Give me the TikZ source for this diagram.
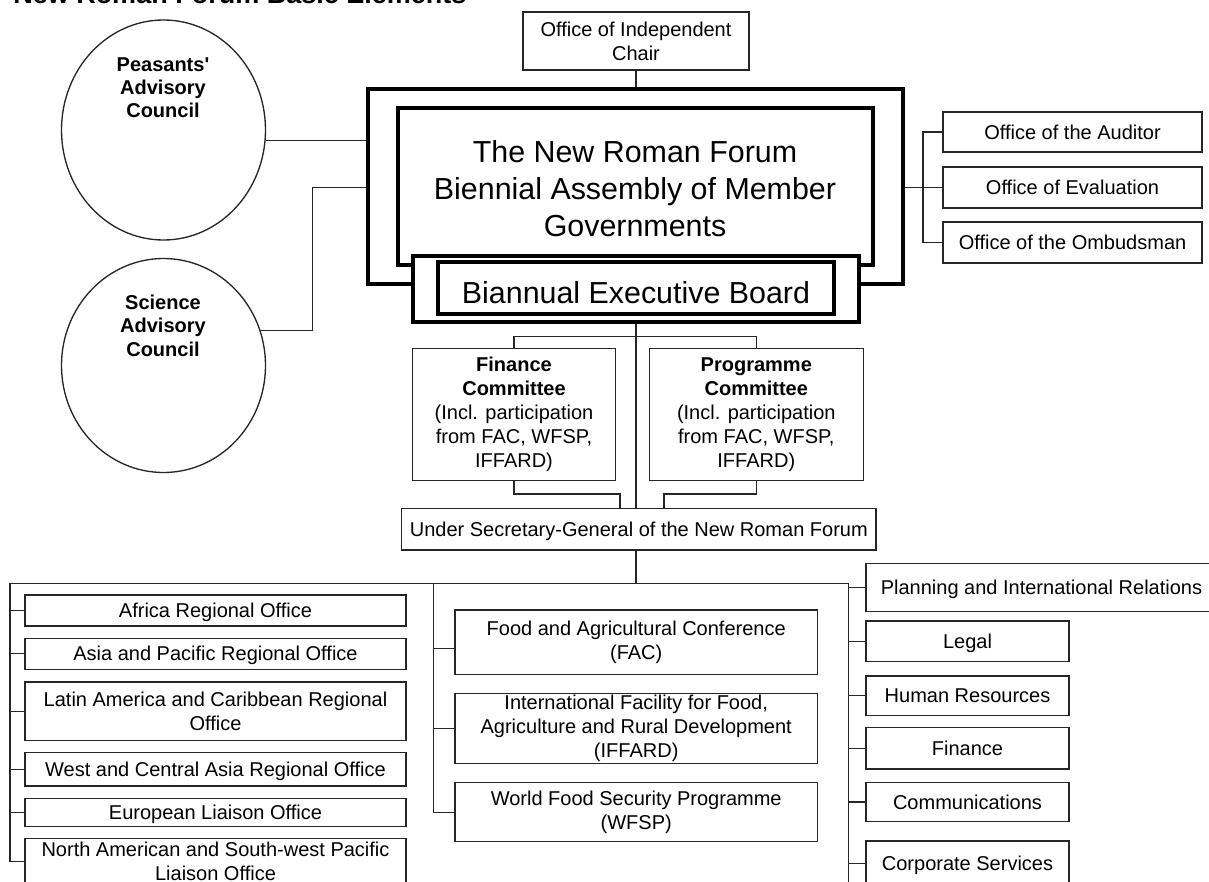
\documentclass[tikz,border=0pt]{standalone}
\usepackage{fontspec}
\setmainfont{Liberation Sans}
\usetikzlibrary{shapes.geometric}
\newcommand\myfn{\fontsize{15}{18}\selectfont}
\newcommand\mybig{\fontsize{22.8}{27.75}\selectfont}
\newcommand\mycirc{\fontsize{15}{17.6}\selectfont\bfseries}
\newcommand\mytitle{\fontsize{20.25}{24}\selectfont\bfseries}
\begin{document}
\begin{tikzpicture}[x=0.75pt,y=-0.75pt]
\tikzset{
  conn/.style={line width=1pt, draw=black!85},
  bx/.style={draw=black!85, line width=1pt, inner sep=0pt, align=center, font=\myfn},
  one/.style={text height=10.74pt, text depth=0pt},
  sz/.style 2 args={minimum width=#1*0.75pt, minimum height=#2*0.75pt},
  thk/.style={draw=black, line width=2.4pt, inner sep=0pt},
  circ/.style={ellipse, draw=black!85, line width=1pt, inner sep=0pt},
}
\useasboundingbox (0,0) rectangle (1209,881);

% title
\node[anchor=base west, font=\mytitle, inner sep=0pt] (title) at (13,4) {New Roman Forum Basic Elements};

% top part
\node[bx, sz={226}{58}] (chair) at (636,41) {Office of Independent\\Chair};
\node[thk, sz={535}{195}] (frame) at (635.5,186.5) {};
\node[thk, sz={475}{157}] (asm) at (635.5,186.5) {};
\node[font=\mybig, align=center, inner sep=0pt] (asmtxt) at (635,189) {The New Roman Forum\\Biennial Assembly of Member\\Governments};
\node[thk, fill=white, sz={446}{66}] (bdout) at (636,289) {};
\node[thk, sz={396}{52}] (bdin) at (636,288) {};
\node[font=\mybig, inner sep=0pt] (bdtxt) at (636,292.4) {Biannual Executive Board};

% offices on the right
\node[bx, one, sz={259}{40}] (aud) at (1072.5,132) {Office of the Auditor};
\node[bx, one, sz={259}{41}] (eva) at (1072.5,187.5) {Office of Evaluation};
\node[bx, one, sz={259}{41}] (omb) at (1072.5,242.5) {Office of the Ombudsman};

% councils
\node[circ, sz={204}{220}] (pea) at (163.5,130) {};
\node[font=\mycirc, align=center, inner sep=0pt] (peatxt) at (163,87.7) {Peasants\textquotesingle\\Advisory\\Council};
\node[circ, sz={204}{214}] (sci) at (163.5,365.5) {};
\node[font=\mycirc, align=center, inner sep=0pt] (scitxt) at (163,325.7) {Science\\Advisory\\Council};

% committees
\node[bx, sz={202.6}{132.4}] (fin) at (514,414.5) {\textbf{Finance}\\\textbf{Committee}\\(Incl. participation\\from FAC, WFSP,\\IFFARD)};
\node[bx, sz={214}{132.4}] (prog) at (756.3,414.5) {\textbf{Programme}\\\textbf{Committee}\\(Incl. participation\\from FAC, WFSP,\\IFFARD)};
\node[bx, one, sz={474.3}{41.7}] (usg) at (638.8,529.2) {Under Secretary-General of the New Roman Forum};

% left column
\node[bx, one, sz={381}{31}] (afr) at (215.5,610.5) {Africa Regional Office};
\node[bx, one, sz={381}{31}] (asia) at (215.5,653.8) {Asia and Pacific Regional Office};
\node[bx, sz={381}{58.7}] (lat) at (215.5,711.3) {Latin America and Caribbean Regional\\Office};
\node[bx, one, sz={381}{33.7}] (wca) at (215.5,769.2) {West and Central Asia Regional Office};
\node[bx, one, sz={381}{28.4}] (eur) at (215.5,812.5) {European Liaison Office};
\node[bx, sz={381}{45.7}] (nam) at (215.5,861.2) {North American and South-west Pacific\\Liaison Office};

% middle column
\node[bx, sz={362.3}{64.3}] (fac) at (636.2,642.2) {Food and Agricultural Conference\\(FAC)};
\node[bx, sz={362.3}{70}] (iff) at (636.2,728.3) {International Facility for Food,\\Agriculture and Rural Development\\(IFFARD)};
\node[bx, sz={362.3}{59}] (wfsp) at (636.2,812.2) {World Food Security Programme\\(WFSP)};

% right column
\node[bx, one, sz={351}{48.4}] (pir) at (1041.5,587.5) {Planning and International Relations};
\node[bx, one, sz={203}{40.7}] (leg) at (967.5,641.3) {Legal};
\node[bx, one, sz={203}{39.7}] (hr) at (967.5,695.8) {Human Resources};
\node[bx, one, sz={203}{41.3}] (finc) at (967.5,748.3) {Finance};
\node[bx, one, sz={203}{39.4}] (com) at (967.5,802) {Communications};
\node[bx, one, sz={203}{44.6}] (cor) at (967.5,863.3) {Corporate Services};

% connectors: top
\draw[conn] (chair.south) -- (chair.south |- frame.north);
\coordinate (pe) at (pea.-6.6);
\draw[conn] (pe) -- (pe -| frame.west);
\coordinate (se) at (sci.20.7);
\coordinate (sbend) at (312.7,187.3);
\draw[conn] (se) -| (sbend) -- (sbend -| frame.west);
\coordinate (ob) at (923,187.5);
\draw[conn] (frame.east |- eva.west) -- (eva.west);
\draw[conn] (aud.west) -| (ob |- omb.west) -- (omb.west);

% connectors: committees
\draw[conn] (bdout.south) -- (bdout.south |- usg.north);
\coordinate (ct) at (636,336.7);
\draw[conn] (fin.north) |- (ct) -| (prog.north);
\coordinate (fb) at (620,494);
\draw[conn] (fin.south) |- (fb) -- (fb |- usg.north);
\coordinate (pb) at (664,494);
\draw[conn] (prog.south) |- (pb) -- (pb |- usg.north);

% connectors: bottom bus
\coordinate (bc) at (636,583.3);
\coordinate (bl) at (10,583.3);
\coordinate (bm) at (433.3,583.3);
\coordinate (br) at (848.3,583.3);
\coordinate (rend) at (848.3,895);
\draw[conn] (bc |- usg.south) -- (bc);
\draw[conn] (bl) -- (br);
\draw[conn] (bl) |- (nam.west);
\foreach \n in {afr,asia,lat,wca,eur}{\draw[conn] (\n.west) -- (\n.west -| bl);}
\draw[conn] (bm) |- (wfsp.west);
\coordinate (fs) at ([yshift=-4.6pt]fac.west);
\draw[conn] (fs) -- (fs -| bm);
\draw[conn] (iff.west) -- (iff.west -| bm);
\draw[conn] (br) -- (rend);
\foreach \n in {pir,leg,hr,finc,com,cor}{\draw[conn] (\n.west) -- (\n.west -| br);}
\end{tikzpicture}
\end{document}
